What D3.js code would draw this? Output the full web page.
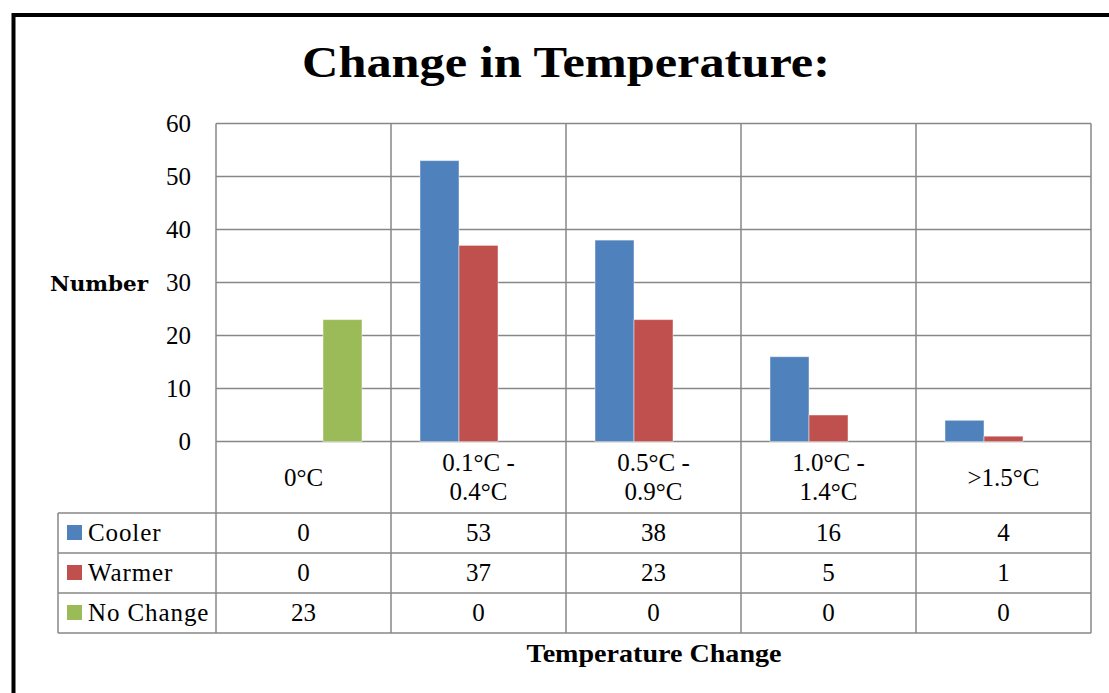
<!DOCTYPE html>
<html>
<head>
<meta charset="utf-8">
<script src="https://cdn.jsdelivr.net/npm/d3@7"></script>
<style>
  html, body { margin: 0; padding: 0; background: #fff; }
  svg { display: block; }
</style>
</head>
<body>
<svg id="chart" width="1109" height="693"></svg>
<script>
// Temperature change categories (two-line labels in the data table)
const categories = ["0°C", "0.1°C - 0.4°C", "0.5°C - 0.9°C", "1.0°C - 1.4°C", ">1.5°C"];
const categoryLines = [["0°C"], ["0.1°C -", "0.4°C"], ["0.5°C -", "0.9°C"], ["1.0°C -", "1.4°C"], [">1.5°C"]];
const seriesNames = ["Cooler", "Warmer", "No Change"];
const cooler = [0, 53, 38, 16, 4];
const warmer = [0, 37, 23, 5, 1];
const noChange = [23, 0, 0, 0, 0];
const yTicks = [0, 10, 20, 30, 40, 50, 60];
const seriesColors = ["#4F81BD", "#C0504D", "#9BBB59"];

const seriesValues = [cooler, warmer, noChange];
const series = seriesNames.map((name, i) => ({ name, color: seriesColors[i], values: seriesValues[i] }));

const svg = d3.select("#chart");
const serif = "'Liberation Serif', 'Times New Roman', serif";
const gridColor = "#878787";

// Layout
const plot = { left: 216, right: 1091, top: 123.5, bottom: 441.5 };
const tableLeft = 58;
const rowLines = [513, 553, 593, 633];

const x = d3.scaleBand().domain(categories).range([plot.left, plot.right]).paddingInner(0).paddingOuter(0);
const xSub = d3.scaleBand().domain(seriesNames).range([0, x.bandwidth()]).paddingInner(0).paddingOuter(0.744);
const y = d3.scaleLinear().domain([0, 60]).range([plot.bottom, plot.top]);

// Outer frame
svg.append("rect")
  .attr("x", 13.5).attr("y", 15)
  .attr("width", 1300).attr("height", 900)
  .attr("fill", "none").attr("stroke", "#000").attr("stroke-width", 4);

// Title
svg.append("text")
  .attr("x", 566).attr("y", 77)
  .attr("text-anchor", "middle")
  .attr("font-family", serif).attr("font-weight", "bold")
  .attr("font-size", 44)
  .attr("textLength", 528).attr("lengthAdjust", "spacingAndGlyphs")
  .text("Change in Temperature:");

// Horizontal gridlines
svg.append("g").selectAll("line").data(yTicks).join("line")
  .attr("x1", plot.left).attr("x2", plot.right)
  .attr("y1", d => y(d)).attr("y2", d => y(d))
  .attr("stroke", gridColor).attr("stroke-width", 1.5);

// Y-axis tick labels
svg.append("g").selectAll("text").data(yTicks).join("text")
  .attr("x", 191).attr("y", d => y(d) + 8.3)
  .attr("text-anchor", "end")
  .attr("font-family", serif).attr("font-size", 25)
  .text(d => d);

// Y-axis title
svg.append("text")
  .attr("x", 148).attr("y", 291)
  .attr("text-anchor", "end")
  .attr("font-family", "'DejaVu Serif', serif").attr("font-weight", "bold")
  .attr("font-size", 21)
  .attr("textLength", 98).attr("lengthAdjust", "spacingAndGlyphs")
  .text("Number");

// Bars
const groups = svg.append("g").selectAll("g").data(categories).join("g")
  .attr("transform", d => `translate(${x(d)},0)`);
groups.selectAll("rect")
  .data((c, ci) => series.map(s => ({ name: s.name, color: s.color, value: s.values[ci] })))
  .join("rect")
  .attr("x", d => xSub(d.name))
  .attr("y", d => y(d.value))
  .attr("width", xSub.bandwidth())
  .attr("height", d => y(0) - y(d.value))
  .attr("fill", d => d.color)
  .attr("stroke", d => d.value > 0 ? "rgba(255,255,255,0.45)" : "none")
  .attr("stroke-width", 1);

// Vertical dividers (plot + data table)
const dividers = categories.map(c => x(c)).concat([plot.right]);
svg.append("g").selectAll("line").data(dividers).join("line")
  .attr("x1", d => d).attr("x2", d => d)
  .attr("y1", plot.top).attr("y2", rowLines[rowLines.length - 1])
  .attr("stroke", gridColor).attr("stroke-width", 1.5);

// Data table row lines
svg.append("g").selectAll("line").data(rowLines).join("line")
  .attr("x1", tableLeft).attr("x2", plot.right)
  .attr("y1", d => d).attr("y2", d => d)
  .attr("stroke", gridColor).attr("stroke-width", 1.5);
svg.append("line")
  .attr("x1", tableLeft).attr("x2", tableLeft)
  .attr("y1", rowLines[0]).attr("y2", rowLines[rowLines.length - 1])
  .attr("stroke", gridColor).attr("stroke-width", 1.5);

// Category labels
const catLabels = svg.append("g").selectAll("text").data(categories).join("text")
  .attr("text-anchor", "middle")
  .attr("font-family", serif).attr("font-size", 25);
catLabels.each(function (c, i) {
  const lines = categoryLines[i];
  const cx = x(c) + x.bandwidth() / 2;
  const base = lines.length === 1 ? 486 : 471;
  d3.select(this).selectAll("tspan").data(lines).join("tspan")
    .attr("x", cx).attr("y", (d, j) => base + j * 28.5)
    .text(d => d);
});

// Table rows: legend key + values
series.forEach((s, r) => {
  const top = rowLines[r];
  svg.append("rect")
    .attr("x", 67).attr("y", top + 12)
    .attr("width", 15).attr("height", 15)
    .attr("fill", s.color);
  svg.append("text")
    .attr("x", 88).attr("y", top + 27.5)
    .attr("font-family", serif).attr("font-size", 25)
    .attr("letter-spacing", 0.9)
    .text(s.name);
  svg.append("g").selectAll("text").data(s.values).join("text")
    .attr("x", (d, i) => x(categories[i]) + x.bandwidth() / 2)
    .attr("y", top + 27.5)
    .attr("text-anchor", "middle")
    .attr("font-family", serif).attr("font-size", 25)
    .text(d => d);
});

// X-axis title
svg.append("text")
  .attr("x", 654).attr("y", 662)
  .attr("text-anchor", "middle")
  .attr("font-family", serif).attr("font-weight", "bold")
  .attr("font-size", 25)
  .attr("textLength", 255).attr("lengthAdjust", "spacingAndGlyphs")
  .text("Temperature Change");
</script>
</body>
</html>
